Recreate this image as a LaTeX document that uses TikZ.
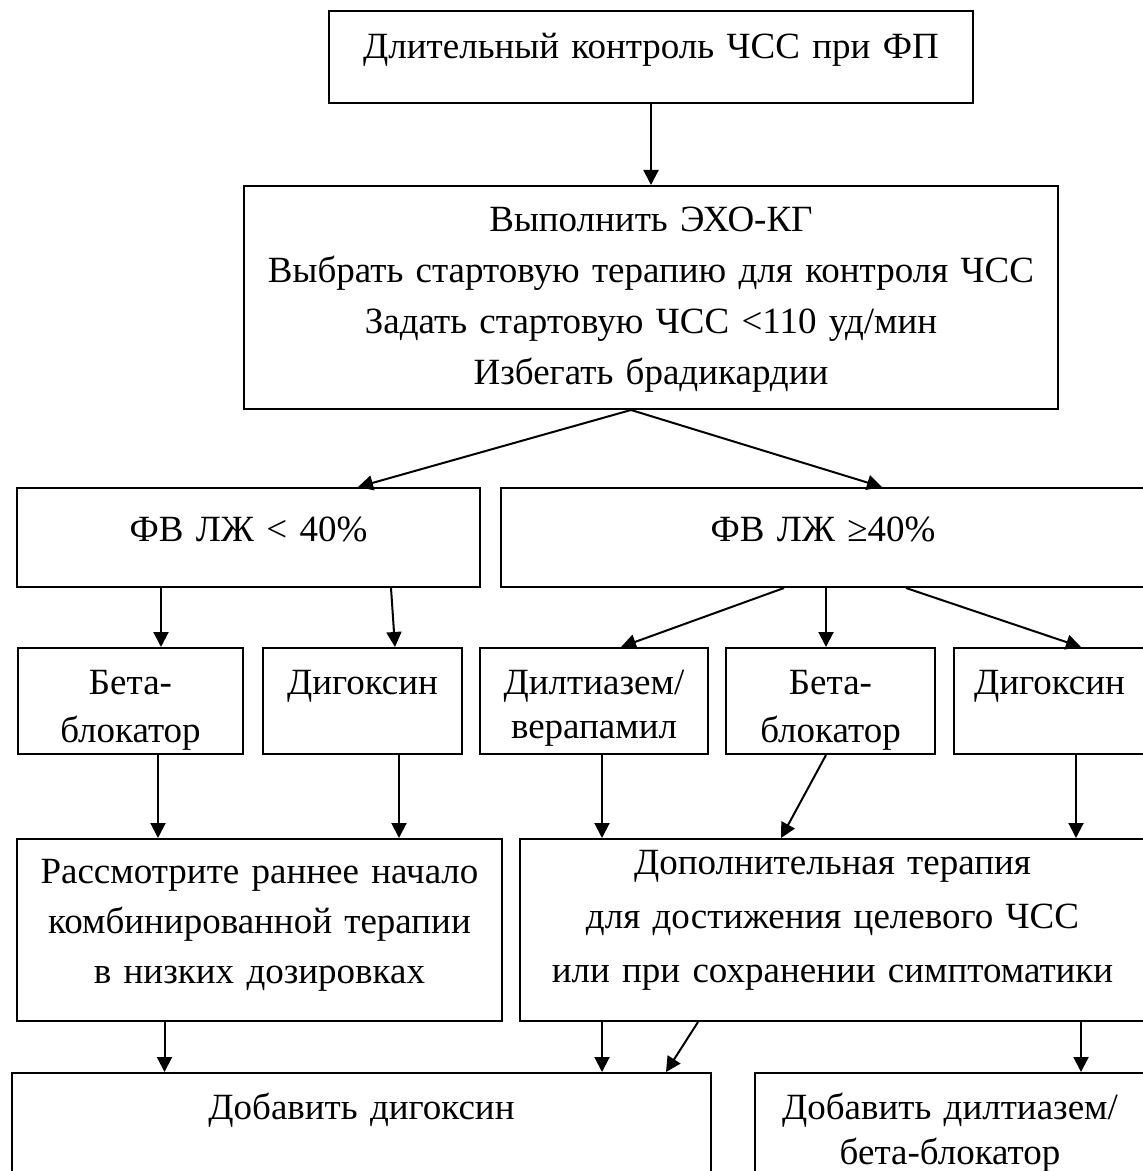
\documentclass[tikz,border=0pt]{standalone}
\usepackage{fontspec}
\setmainfont{Liberation Serif}
\usepackage{tikz}
\usetikzlibrary{arrows.meta}

\begin{document}
\begin{tikzpicture}[
  x=0.5pt, y=-0.5pt,
  every node/.style={font=\fontsize{18.5}{25.5}\selectfont},
  block/.style={rectangle, draw, line width=1pt, anchor=north west,
                align=center, inner sep=0pt},
  pill/.style={block, text height=23pt, text depth=30pt,
               font=\fontsize{18.5}{24}\selectfont},
  arr/.style={-{Triangle[length=7.5pt, width=7.5pt]}, line width=1pt},
]
\useasboundingbox (0,0) rectangle (1142,1171);

\node[block, text width=322pt, text height=24pt, text depth=22pt]
                          (ctrl) at (328,10)  {Длительный контроль ЧСС при ФП};
\node[block, text width=407pt, text height=23pt, text depth=88.5pt]
                          (exo)  at (243,185) {Выполнить ЭХО-КГ\\
                                               Выбрать стартовую терапию для контроля ЧСС\\
                                               Задать стартовую ЧСС <110 уд/мин\\
                                               Избегать брадикардии};
\node[block, text width=231.5pt, text height=26.5pt, text depth=23pt]
                          (lv1)  at (16,487)  {ФВ ЛЖ < 40\%};
\node[block, text width=322pt, text height=26.5pt, text depth=23pt]
                          (hv1)  at (500,487) {ФВ ЛЖ ≥40\%};
\node[pill, text width=112.5pt]
                          (bb1)  at (17,647)  {Бета-\\блокатор};
\node[pill, text width=99.5pt]
                          (dig1) at (262,647) {Дигоксин};
\node[pill, text width=114pt, font=\fontsize{18.5}{22}\selectfont]
                          (dil)  at (479,647) {Дилтиазем/\\верапамил};
\node[pill, text width=104.5pt]
                          (bb2)  at (725,647) {Бета-\\блокатор};
\node[pill, text width=95.5pt]
                          (dig2) at (953,647) {Дигоксин};
\node[block, text width=242.5pt, text height=22pt, text depth=69pt,
      font=\fontsize{18.5}{25}\selectfont]
                          (rec)  at (16,838)  {Рассмотрите раннее начало\\
                                               комбинированной терапии\\
                                               в низких дозировках};
\node[block, text width=312.5pt, text height=17.5pt, text depth=73.5pt,
      font=\fontsize{18.5}{27}\selectfont]
                          (dop)  at (519,838) {Дополнительная терапия\\
                                               для достижения целевого ЧСС\\
                                               или при сохранении симптоматики};
\node[block, text width=349.5pt, text height=23pt, text depth=40pt]
                          (add1) at (11,1072) {Добавить дигоксин};
\node[block, text width=195pt, text height=23pt, text depth=40pt,
      font=\fontsize{18.5}{22.5}\selectfont]
                          (add2) at (754,1072) {Добавить дилтиазем/\\бета-блокатор};

\draw[arr] (ctrl) -- (exo);
\draw[arr] ([xshift=-10pt]exo.south) -- ([xshift=54.75pt]lv1.north);
\draw[arr] ([xshift=-10pt]exo.south) -- ([xshift=29.5pt]hv1.north);
\draw[arr] ([xshift=-43.75pt]lv1.south) -- ([xshift=-43.75pt]lv1.south |- bb1.north);
\draw[arr] ([xshift=71.25pt]lv1.south) -- ([xshift=16.25pt]dig1.north);
\draw[arr] ([xshift=-19.5pt]hv1.south) -- ([xshift=13.5pt]dil.north);
\draw[arr] ([xshift=1.5pt]hv1.south) -- ([xshift=1.5pt]hv1.south |- bb2.north);
\draw[arr] ([xshift=41.5pt]hv1.south) -- ([xshift=15.75pt]dig2.north);
\draw[arr] ([xshift=13.75pt]bb1.south) -- ([xshift=13.75pt]bb1.south |- rec.north);
\draw[arr] ([xshift=18.25pt]dig1.south) -- ([xshift=18.25pt]dig1.south |- rec.north);
\draw[arr] ([xshift=4pt]dil.south) -- ([xshift=4pt]dil.south |- dop.north);
\draw[arr] ([xshift=-2.25pt]bb2.south) -- ([xshift=-25.75pt]dop.north);
\draw[arr] ([xshift=13.25pt]dig2.south) -- ([xshift=13.25pt]dig2.south |- dop.north);
\draw[arr] ([xshift=-47.5pt]rec.south) -- ([xshift=-47.5pt]rec.south |- add1.north);
\draw[arr] ([xshift=-115.25pt]dop.south) -- ([xshift=-115.25pt]dop.south |- add1.north);
\draw[arr] ([xshift=-67.25pt]dop.south) -- ([xshift=152.25pt]add1.north);
\draw[arr] ([xshift=124.25pt]dop.south) -- ([xshift=124.25pt]dop.south |- add2.north);
\end{tikzpicture}
\end{document}
